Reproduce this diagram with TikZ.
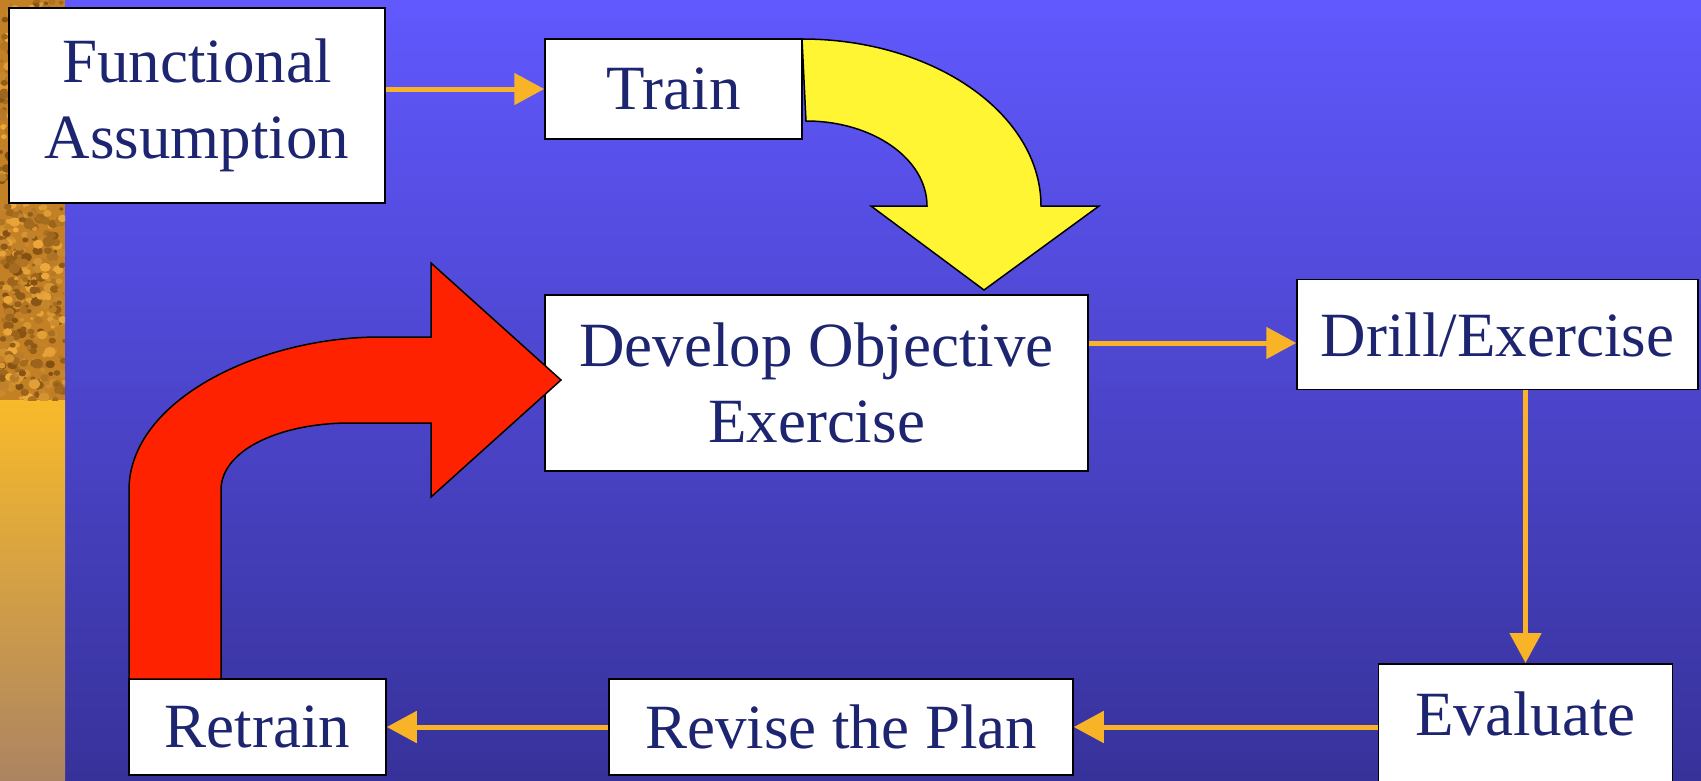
\documentclass[tikz,border=0pt]{standalone}
\usepackage{fontspec}
\setmainfont{Liberation Serif}
\usetikzlibrary{arrows.meta}
\definecolor{bgtop}{RGB}{97,88,254}
\definecolor{bgbot}{RGB}{55,50,154}
\definecolor{navy}{RGB}{30,37,112}
\definecolor{conn}{RGB}{248,180,38}
\definecolor{redarrow}{RGB}{255,34,0}
\definecolor{yelarrow}{RGB}{255,245,50}
\definecolor{stripA}{RGB}{248,186,42}
\definecolor{stripB}{RGB}{172,132,98}
\definecolor{pebble}{RGB}{196,128,36}
\definecolor{pebbleDark}{RGB}{130,78,18}
\definecolor{pebbleLight}{RGB}{238,170,60}
\tikzset{
  box/.style={draw=black, line width=1.5pt, fill=white, text=navy,
    font=\fontsize{63}{76}\selectfont, align=center, inner sep=0pt},
  link/.style={draw=conn, line width=5pt, -{Triangle[length=30pt,width=31pt]}},
  bigarrow/.style={draw=black, line width=1.5pt, line join=miter}
}
\begin{document}
\begin{tikzpicture}[x=1pt,y=-1pt]
\useasboundingbox (0,0) rectangle (1701,780);
\clip (0,0) rectangle (1701,780);
% background
\shade[top color=bgtop, bottom color=bgbot] (65,0) rectangle (1701,780);
\shade[top color=stripA, bottom color=stripB] (0,400) rectangle (65,780);
\begin{scope}
  \clip (0,0) rectangle (65,400);
  \fill[pebble] (0,0) rectangle (65,400);
  \pgfmathsetseed{7}
  \foreach \i in {1,...,700}{
    \pgfmathsetmacro\px{rnd*65}
    \pgfmathsetmacro\py{rnd*400}
    \pgfmathsetmacro\pr{1.5+rnd*3.5}
    \pgfmathsetmacro\pk{rnd*100}
    \fill[pebbleDark!\pk!pebbleLight] (\px,\py) ellipse ({\pr*1.2} and \pr);
  }
\end{scope}
% boxes
\node[box, minimum width=376pt, minimum height=195pt] (fa) at (197,105.5) {Functional\\Assumption};
\node[box, minimum width=257pt, minimum height=100pt] (train) at (673.5,89) {Train};
\node[box, minimum width=543pt, minimum height=176pt] (dev) at (816.5,383) {Develop Objective\\Exercise};
\node[box, minimum width=401pt, minimum height=110pt] (drill) at (1497.5,334.5) {Drill/Exercise};
\node[box, anchor=north, minimum width=294pt, text height=72pt, text depth=65pt] (eval) at (1525.5,663) {Evaluate};
\node[box, minimum width=464pt, minimum height=96pt] (revise) at (841,727) {Revise the Plan};
\node[box, minimum width=257pt, minimum height=96pt] (retrain) at (257.5,727) {Retrain};
% connectors
\draw[link] (fa.east |- train.west) -- (train.west);
\draw[link] ([yshift=-8.5pt]dev.east |- drill.west) -- ([yshift=-8.5pt]drill.west);
\draw[link] (eval.north |- drill.south) -- (eval.north);
\draw[link] (eval.west |- revise.east) -- (revise.east);
\draw[link] (revise.west) -- (retrain.east);
% yellow curved arrow
\filldraw[bigarrow, fill=yelarrow] (802,39) .. controls (934,39) and (1041,114) .. (1041,206)
  -- (1099,206) -- (984,290) -- (871,206) -- (927,206)
  .. controls (927,159) and (873,121) .. (806,121) -- cycle;
% red curved arrow
\filldraw[bigarrow, fill=redarrow] (129,679) -- (129,490) .. controls (129,400) and (260,337) .. (380,337)
  -- (431,337) -- (431,263) -- (561,380) -- (431,497) -- (431,423) -- (350,423)
  .. controls (280,423) and (221,450) .. (221,490) -- (221,679) -- cycle;
\end{tikzpicture}
\end{document}
